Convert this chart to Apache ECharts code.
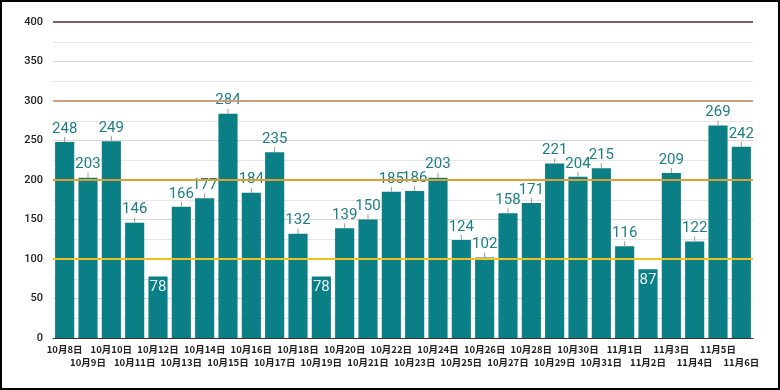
<!DOCTYPE html>
<html><head><meta charset="utf-8">
<script src="https://cdn.jsdelivr.net/npm/echarts@6/dist/echarts.min.js"></script>
<style>html,body{margin:0;padding:0;background:#fff}#c{width:780px;height:390px;box-sizing:border-box;border:2px solid #000}</style>
</head><body><div id="c"></div>
<script>
var categories = ['10月8日','10月9日','10月10日','10月11日','10月12日','10月13日','10月14日','10月15日','10月16日','10月17日','10月18日','10月19日','10月20日','10月21日','10月22日','10月23日','10月24日','10月25日','10月26日','10月27日','10月28日','10月29日','10月30日','10月31日','11月1日','11月2日','11月3日','11月4日','11月5日','11月6日'];
var values = [248,203,249,146,78,166,177,284,184,235,132,78,139,150,185,186,203,124,102,158,171,221,204,215,116,87,209,122,269,242];
var refLevels = [100,200,300,400];
var refColors = ['#f0c020','#e0a030','#cc9c80','#806060'];

var chart = echarts.init(document.getElementById('c'));
var teal = '#0a7f86';
var data = values.map(function(v){
  if (v < 100) {
    return {value: v, label: {position: 'insideTop', distance: 3, formatter: '{w|{c}}'}};
  }
  return {value: v};
});
chart.setOption({
  animation: false,
  grid: {left: 51, right: 25, top: 20, bottom: 50},
  xAxis: {
    type: 'category', data: categories,
    axisTick: {show: false},
    axisLine: {lineStyle: {color: '#333', width: 1}},
    axisLabel: {
      interval: 0, color: '#222', fontSize: 9.5, fontWeight: 'bold', fontFamily: 'Noto Sans CJK SC', margin: 5, lineHeight: 13,
      formatter: function(v, i){ return i % 2 ? '\n' + v : v; }
    }
  },
  yAxis: {
    type: 'value', min: 0, max: 400, interval: 50,
    axisLabel: {color: '#222', fontSize: 11, fontFamily: 'Roboto', fontWeight: 500, margin: 10},
    splitLine: {lineStyle: {color: '#d8d8d8'}},
    minorTick: {show: false, splitNumber: 2},
    minorSplitLine: {show: true, lineStyle: {color: '#e6e6e6'}}
  },
  series: [{
    type: 'bar', data: data, barCategoryGap: '18%',
    itemStyle: {color: teal},
    label: {
      show: true, position: 'top', distance: 0,
      formatter: '{v|{c}}\n{l| }',
      rich: {
        v: {color: '#1b7f85', fontSize: 15, fontFamily: 'Roboto', lineHeight: 16},
        l: {width: 1, height: 5, backgroundColor: '#999', fontSize: 1, lineHeight: 5},
        w: {color: '#e8f4f4', fontSize: 15, fontFamily: 'Roboto'}
      }
    },
    markLine: {
      silent: true, symbol: 'none', z: 10,
      label: {show: false},
      data: refLevels.map(function(y, i){ return {yAxis: y, lineStyle: {color: refColors[i], width: 2, type: 'solid'}}; })
    }
  }]
});
</script></body></html>
